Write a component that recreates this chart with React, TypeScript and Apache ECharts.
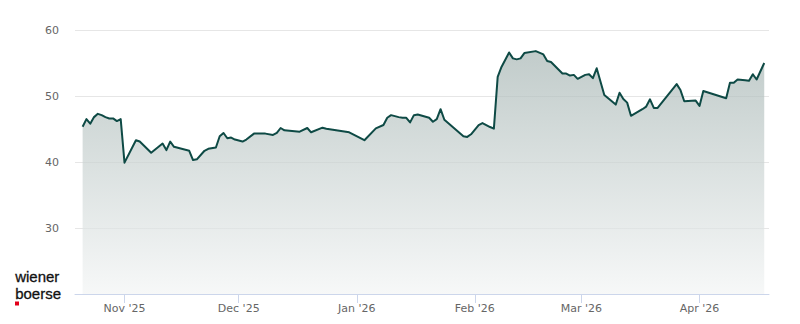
import React, { useEffect, useRef } from "react";
import * as echarts from "echarts";

const dates: string[] = [
  "2025-10-21", "2025-10-22", "2025-10-23", "2025-10-24", "2025-10-25", "2025-10-26", "2025-10-27", "2025-10-28",
  "2025-10-29", "2025-10-30", "2025-10-31", "2025-11-01", "2025-11-04", "2025-11-05", "2025-11-08", "2025-11-11",
  "2025-11-12", "2025-11-13", "2025-11-14", "2025-11-16", "2025-11-18", "2025-11-19", "2025-11-20", "2025-11-22",
  "2025-11-23", "2025-11-25", "2025-11-26", "2025-11-27", "2025-11-28", "2025-11-29", "2025-11-30", "2025-12-02",
  "2025-12-03", "2025-12-05", "2025-12-08", "2025-12-10", "2025-12-11", "2025-12-12", "2025-12-13", "2025-12-17",
  "2025-12-19", "2025-12-20", "2025-12-23", "2025-12-24", "2025-12-30", "2026-01-03", "2026-01-06", "2026-01-08",
  "2026-01-09", "2026-01-10", "2026-01-12", "2026-01-13", "2026-01-14", "2026-01-15", "2026-01-16", "2026-01-17",
  "2026-01-20", "2026-01-21", "2026-01-22", "2026-01-23", "2026-01-24", "2026-01-29", "2026-01-30", "2026-01-31",
  "2026-02-02", "2026-02-03", "2026-02-05", "2026-02-06", "2026-02-07", "2026-02-08", "2026-02-10", "2026-02-11",
  "2026-02-12", "2026-02-13", "2026-02-14", "2026-02-17", "2026-02-19", "2026-02-20", "2026-02-21", "2026-02-24",
  "2026-02-25", "2026-02-26", "2026-02-27", "2026-02-28", "2026-03-02", "2026-03-03", "2026-03-04", "2026-03-05",
  "2026-03-07", "2026-03-10", "2026-03-11", "2026-03-12", "2026-03-13", "2026-03-14", "2026-03-17", "2026-03-18",
  "2026-03-19", "2026-03-20", "2026-03-21", "2026-03-26", "2026-03-27", "2026-03-28", "2026-03-31", "2026-04-01",
  "2026-04-02", "2026-04-08", "2026-04-09", "2026-04-10", "2026-04-11", "2026-04-13", "2026-04-14", "2026-04-15",
  "2026-04-16", "2026-04-18",
];

const prices: number[] = [
  45.35, 46.5, 45.8, 46.8, 47.3, 47.1, 46.8, 46.6,
  46.6, 46.2, 46.5, 39.9, 43.3, 43.1, 41.4, 42.8,
  41.8, 43.1, 42.3, 42.0, 41.7, 40.3, 40.4, 41.7,
  42.0, 42.2, 43.9, 44.4, 43.6, 43.7, 43.4, 43.1,
  43.4, 44.3, 44.3, 44.1, 44.4, 45.15, 44.8, 44.6,
  45.15, 44.5, 45.2, 45.05, 44.5, 43.3, 45.1, 45.6,
  46.7, 47.1, 46.8, 46.7, 46.7, 46.0, 47.1, 47.2,
  46.7, 46.1, 46.5, 48.0, 46.4, 43.9, 43.8, 44.2,
  45.6, 45.9, 45.3, 45.05, 52.9, 54.4, 56.6, 55.7,
  55.55, 55.7, 56.5, 56.8, 56.3, 55.3, 55.15, 53.4,
  53.4, 53.1, 53.2, 52.6, 53.2, 53.3, 52.7, 54.2,
  50.15, 48.7, 50.5, 49.55, 49.0, 47.0, 48.0, 48.4,
  49.5, 48.2, 48.2, 51.8, 50.9, 49.2, 49.3, 48.5,
  50.75, 49.65, 52.0, 52.0, 52.5, 52.4, 52.3, 53.3,
  52.5, 55.0,
];

const monthTicks: string[] = ["2025-11-01", "2025-12-01", "2026-01-01", "2026-02-01", "2026-03-01", "2026-04-01"];
const monthNames: string[] = ["Jan", "Feb", "Mar", "Apr", "May", "Jun", "Jul", "Aug", "Sep", "Oct", "Nov", "Dec"];
const axisStart = "2025-10-19";
const axisEnd = "2026-04-19";
const logoText = "wiener\nboerse";

const toTs = (s: string, hours = 0): number => {
  const [y, m, d] = s.split("-").map(Number);
  return new Date(y, m - 1, d, hours).getTime();
};

export default function App() {
  const ref = useRef<HTMLDivElement>(null);

  useEffect(() => {
    if (!ref.current) return;
    const chart = echarts.init(ref.current, undefined, { renderer: "svg" });
    const data = dates.map((d, i) => [toTs(d), prices[i]]);
    const ticks = monthTicks.map((d) => toTs(d));

    chart.setOption({
      animation: false,
      backgroundColor: "#ffffff",
      textStyle: { fontFamily: "DejaVu Sans" },
      grid: { left: 75, right: 31, top: 30, bottom: 30 },
      xAxis: {
        type: "value",
        min: toTs(axisStart),
        max: toTs(axisEnd, 6),
        axisLine: { show: true, lineStyle: { color: "#ccd6eb", width: 1 } },
        axisTick: { show: true, customValues: ticks, length: 9, lineStyle: { color: "#ccd6eb" } },
        axisLabel: {
          customValues: ticks,
          color: "#666666",
          fontSize: 11,
          fontFamily: "DejaVu Sans",
          margin: 9,
          formatter: (v: number) => {
            const dt = new Date(v);
            return monthNames[dt.getMonth()] + " '" + String(dt.getFullYear()).slice(2);
          },
        },
        splitLine: { show: false },
      },
      yAxis: {
        type: "value",
        min: 20,
        max: 60,
        interval: 10,
        axisLine: { show: false },
        axisTick: { show: false },
        axisLabel: {
          showMinLabel: false,
          color: "#666666",
          fontSize: 11,
          fontFamily: "DejaVu Sans",
          margin: 16,
        },
        splitLine: { show: true, lineStyle: { color: "#e6e6e6", width: 1 } },
      },
      series: [
        {
          type: "line",
          data,
          showSymbol: false,
          symbol: "none",
          smooth: false,
          lineStyle: { color: "#0e4a45", width: 2, join: "round" },
          areaStyle: {
            origin: "start",
            color: new echarts.graphic.LinearGradient(0, 0, 0, 1, [
              { offset: 0, color: "#a7b6b4" },
              { offset: 1, color: "#f3f5f5" },
            ]),
          },
        },
      ],
      graphic: [
        {
          type: "text",
          left: 15,
          top: 268,
          style: {
            text: logoText,
            fontSize: 15,
            lineHeight: 17,
            fontFamily: "Liberation Sans",
            fill: "#111111",
            stroke: "#111111",
            lineWidth: 0.3,
          },
        },
        {
          type: "rect",
          left: 15,
          top: 301.5,
          shape: { width: 4, height: 4 },
          style: { fill: "#e2001a" },
        },
      ],
    });

    return () => chart.dispose();
  }, []);

  return <div ref={ref} style={{ width: 800, height: 324, position: "absolute", left: 0, top: 0 }} />;
}
